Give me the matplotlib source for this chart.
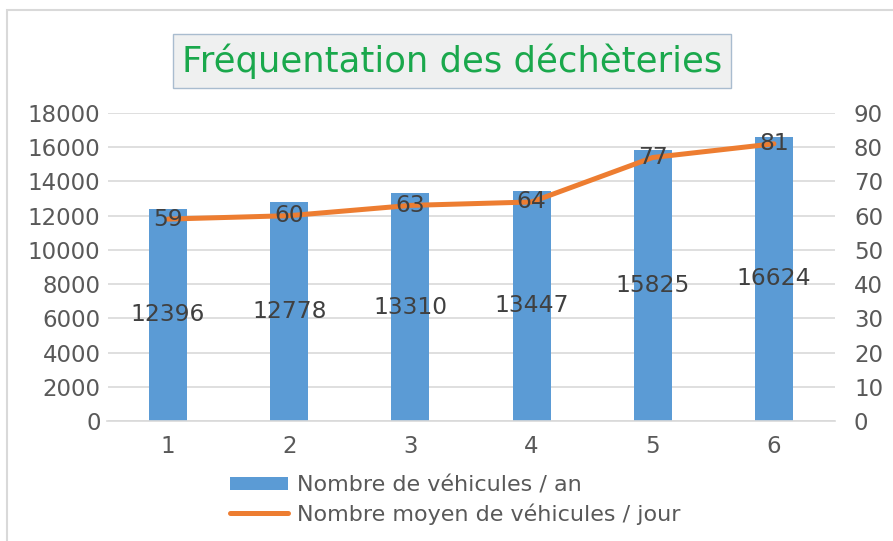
import matplotlib
matplotlib.use("Agg")
from matplotlib import pyplot as plt
from matplotlib.patches import Rectangle

# data
categories = ["1", "2", "3", "4", "5", "6"]
vehicules_an = [12396, 12778, 13310, 13447, 15825, 16624]
moyen_jour = [59, 60, 63, 64, 77, 81]
left_ticks = [0, 2000, 4000, 6000, 8000, 10000, 12000, 14000, 16000, 18000]
right_ticks = [0, 10, 20, 30, 40, 50, 60, 70, 80, 90]

BLUE = "#5b9bd5"
ORANGE = "#ed7d31"
TICK_GRAY = "#595959"
LABEL_GRAY = "#404040"
GRID = "#d9d9d9"

plt.rcParams["font.family"] = ["DejaVu Sans"]

fig = plt.figure(figsize=(8.93, 5.41), dpi=100)
fig.patch.set_facecolor("white")

# outer chart frame (left + top visible)
fig.patches.append(Rectangle((7 / 893, -0.05), 1.2, 1 - 10 / 541 + 0.05,
                             transform=fig.transFigure, fill=False,
                             edgecolor="#d9d9d9", linewidth=1.5))

ax = fig.add_axes([107.5 / 893, 1 - 421 / 541, 727 / 893, 308 / 541])
ax2 = ax.twinx()

x = list(range(len(categories)))
bars = ax.bar(x, vehicules_an, width=0.314, color=BLUE, zorder=2,
              label="Nombre de véhicules / an")
ax.set_xlim(-0.5, len(categories) - 0.5)
ax.set_ylim(0, 18000)
ax.set_yticks(left_ticks)
ax.set_xticks(x)
ax.set_xticklabels(categories)
ax.grid(axis="y", color=GRID, linewidth=1.2, zorder=0)
ax.set_axisbelow(True)
for side in ["top", "right", "left"]:
    ax.spines[side].set_visible(False)
ax.spines["bottom"].set_color(GRID)
ax.spines["bottom"].set_linewidth(1.2)
ax.tick_params(axis="both", length=0, labelsize=16.5, labelcolor=TICK_GRAY)
ax.tick_params(axis="x", pad=10)
ax.tick_params(axis="y", pad=5)

for xi, v in zip(x, vehicules_an):
    ax.text(xi, v / 2, str(v), ha="center", va="center", fontsize=16.8,
            color=LABEL_GRAY, zorder=5)

line, = ax2.plot(x, moyen_jour, color=ORANGE, linewidth=3.6, zorder=3,
                 solid_capstyle="round", label="Nombre moyen de véhicules / jour")
ax2.set_ylim(0, 90)
ax2.set_yticks(right_ticks)
for side in ["top", "right", "left", "bottom"]:
    ax2.spines[side].set_visible(False)
ax2.tick_params(axis="y", length=0, labelsize=16.5, labelcolor=TICK_GRAY, pad=14)

for xi, v in zip(x, moyen_jour):
    ax2.text(xi, v, str(v), ha="center", va="center", fontsize=16.8,
             color=LABEL_GRAY, zorder=6)

# title in a shaded box
fig.text(452 / 893, 1 - 61 / 541, "Fréquentation des déchèteries",
         ha="center", va="center", fontsize=25.5, color="#1aa84c",
         bbox=dict(boxstyle="square,pad=0.25", facecolor="#eff0f0",
                   edgecolor="#a9bccf", linewidth=1))

fig.legend(handles=[bars, line], loc="center",
           bbox_to_anchor=(455 / 893, 1 - 500 / 541), frameon=False,
           fontsize=16, labelcolor=TICK_GRAY, handlelength=2.6,
           handleheight=0.55, handletextpad=0.4, labelspacing=0.35)

fig.savefig("out.png", dpi=100)
